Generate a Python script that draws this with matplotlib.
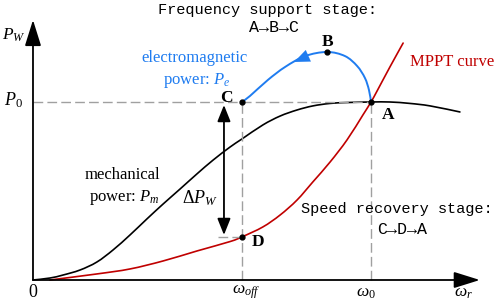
import matplotlib
matplotlib.use("Agg")
import matplotlib.pyplot as plt
from matplotlib.path import Path
from matplotlib.patches import PathPatch

plt.rcParams['mathtext.fontset'] = 'custom'
plt.rcParams['mathtext.rm'] = 'Liberation Serif'
plt.rcParams['mathtext.it'] = 'Liberation Serif:italic'
plt.rcParams['mathtext.bf'] = 'Liberation Serif:bold'

# ---- data (normalised: omega/omega0, P/P0) ----
pm_w = [0.0, 0.050, 0.089, 0.139, 0.189, 0.237, 0.287, 0.337, 0.385, 0.435, 0.485,
        0.533, 0.583, 0.618, 0.680, 0.731, 0.781, 0.828, 0.879, 0.929, 1.0, 1.056,
        1.115, 1.175, 1.263]
pm_p = [0.0, 0.011, 0.028, 0.056, 0.101, 0.169, 0.253, 0.343, 0.427, 0.511, 0.596,
        0.674, 0.747, 0.792, 0.871, 0.921, 0.955, 0.978, 0.992, 0.997, 1.0, 1.0,
        0.992, 0.978, 0.944]

mppt_w = [0.050, 0.189, 0.287, 0.385, 0.485, 0.583, 0.618, 0.680, 0.731, 0.781,
          0.828, 0.879, 0.929, 0.976, 1.0, 1.018, 1.056, 1.095]
mppt_p = [0.0, 0.034, 0.062, 0.107, 0.163, 0.216, 0.242, 0.298, 0.365, 0.449,
          0.551, 0.663, 0.787, 0.927, 1.0, 1.062, 1.197, 1.331]

pe_w = [0.618, 0.642, 0.695, 0.746, 0.805, 0.870, 0.923, 0.959, 0.982, 0.994, 1.0]
pe_p = [1.0, 1.034, 1.124, 1.197, 1.258, 1.281, 1.258, 1.202, 1.135, 1.067, 1.0]

w_off = 0.618
w_0 = 1.0
p_0 = 1.0
p_d = 0.242
p_b = 1.281
w_b = 0.870

x_axis_end = 1.322
y_axis_end = 1.461

BLUE = '#1f7cf0'
RED = '#c00000'
GRAY = '#a0a0a0'
MONO = ['Liberation Mono', 'DejaVu Sans Mono']
SERIF = 'Liberation Serif'

fig = plt.figure(figsize=(4.98, 3.02), dpi=100)
ax = fig.add_axes([0, 0, 1, 1])
ax.set_xlim(-0.0976, 1.3757)
ax.set_ylim(-0.1236, 1.573)
ax.axis('off')


def smooth_curve(xs, ys, color, lw):
    """Draw a smooth curve through the points using cubic Bezier segments."""
    n = len(xs)
    verts = [(xs[0], ys[0])]
    codes = [Path.MOVETO]
    for i in range(n - 1):
        x0, y0 = (xs[i - 1], ys[i - 1]) if i > 0 else (xs[i], ys[i])
        x1, y1 = xs[i], ys[i]
        x2, y2 = xs[i + 1], ys[i + 1]
        x3, y3 = (xs[i + 2], ys[i + 2]) if i + 2 < n else (xs[i + 1], ys[i + 1])
        c1 = (x1 + (x2 - x0) / 6.0, y1 + (y2 - y0) / 6.0)
        c2 = (x2 - (x3 - x1) / 6.0, y2 - (y3 - y1) / 6.0)
        verts += [c1, c2, (x2, y2)]
        codes += [Path.CURVE4, Path.CURVE4, Path.CURVE4]
    ax.add_patch(PathPatch(Path(verts, codes), facecolor='none', edgecolor=color,
                           lw=lw, capstyle='round', joinstyle='round'))


# dashed guide lines
dash = dict(color=GRAY, lw=1.0, linestyle=(0, (7, 3)))
ax.plot([0, w_0], [p_0, p_0], **dash)
ax.plot([w_off, w_off], [0, p_0], **dash)
ax.plot([w_0, w_0], [0, p_0], **dash)
ax.plot([0.547, w_off], [p_d, p_d], **dash)

# axes arrows
ax.annotate('', xy=(x_axis_end, 0), xytext=(0, 0),
            arrowprops=dict(arrowstyle='-|>,head_length=1.6,head_width=0.5',
                            color='black', lw=1.3, shrinkA=0, shrinkB=0))
ax.annotate('', xy=(0, y_axis_end), xytext=(0, 0),
            arrowprops=dict(arrowstyle='-|>,head_length=1.6,head_width=0.5',
                            color='black', lw=1.3, shrinkA=0, shrinkB=0))

# curves
smooth_curve(pm_w, pm_p, 'black', 1.2)
smooth_curve(mppt_w, mppt_p, RED, 1.2)
smooth_curve(pe_w, pe_p, BLUE, 1.4)
ax.annotate('', xy=(pe_w[3] + 0.45 * (pe_w[4] - pe_w[3]), pe_p[3] + 0.45 * (pe_p[4] - pe_p[3])),
            xytext=(pe_w[4] + 0.2 * (pe_w[5] - pe_w[4]), pe_p[4] + 0.2 * (pe_p[5] - pe_p[4])),
            arrowprops=dict(arrowstyle='-|>,head_length=1.1,head_width=0.45',
                            color=BLUE, lw=0.1, shrinkA=0, shrinkB=0))

# delta P arrow
ax.annotate('', xy=(0.565, 0.253), xytext=(0.565, 0.983),
            arrowprops=dict(arrowstyle='<|-|>,head_length=1.0,head_width=0.4',
                            color='black', lw=1.3, shrinkA=0, shrinkB=0))

# points
ax.plot([w_off, w_b, w_0, w_off], [p_0, p_b, p_0, p_d], 'o', color='black', ms=3.5, zorder=5)

# labels
ax.text(-0.058, 1.376, '$P_W$', fontsize=12.5, ha='center', va='center')
ax.text(-0.058, 1.011, '$P_0$', fontsize=13, ha='center', va='center')
ax.text(0, -0.073, '0', fontsize=13, family=SERIF, ha='center', va='center')
ax.text(0.630, -0.070, r'$\omega_{off}$', fontsize=12.5, ha='center', va='center')
ax.text(0.985, -0.070, r'$\omega_0$', fontsize=12.5, ha='center', va='center')
ax.text(1.275, -0.070, r'$\omega_r$', fontsize=12.5, ha='center', va='center')

ax.text(0.571, 1.025, 'C', fontsize=12.5, family=SERIF, weight='bold', ha='center', va='center')
ax.text(0.870, 1.337, 'B', fontsize=12.5, family=SERIF, weight='bold', ha='center', va='center')
ax.text(1.050, 0.927, 'A', fontsize=12.5, family=SERIF, weight='bold', ha='center', va='center')
ax.text(0.666, 0.213, 'D', fontsize=12.5, family=SERIF, weight='bold', ha='center', va='center')

ax.text(0.479, 1.247, 'electromagnetic', fontsize=12, family=SERIF, color=BLUE,
        ha='center', va='center')
ax.text(0.485, 1.118, 'power: $P_e$', fontsize=12, family=SERIF, color=BLUE,
        ha='center', va='center')
ax.text(1.240, 1.225, 'MPPT curve', fontsize=12, family=SERIF, color=RED,
        ha='center', va='center')
ax.text(0.266, 0.590, 'mechanical', fontsize=12, family=SERIF, ha='center', va='center')
ax.text(0.269, 0.461, 'power: $P_m$', fontsize=12, family=SERIF, ha='center', va='center')
ax.text(0.494, 0.461, r'$\Delta P_W$', fontsize=13, ha='center', va='center')

ax.text(0.695, 1.517, 'Frequency support stage:', fontsize=11, family=MONO,
        ha='center', va='center')
ax.text(0.713, 1.416, 'A→B→C', fontsize=12, family=MONO, ha='center', va='center')
ax.text(1.077, 0.399, 'Speed recovery stage:', fontsize=11, family=MONO,
        ha='center', va='center')
ax.text(1.092, 0.281, 'C→D→A', fontsize=12, family=MONO, ha='center', va='center')

fig.savefig('out.png', dpi=100)
